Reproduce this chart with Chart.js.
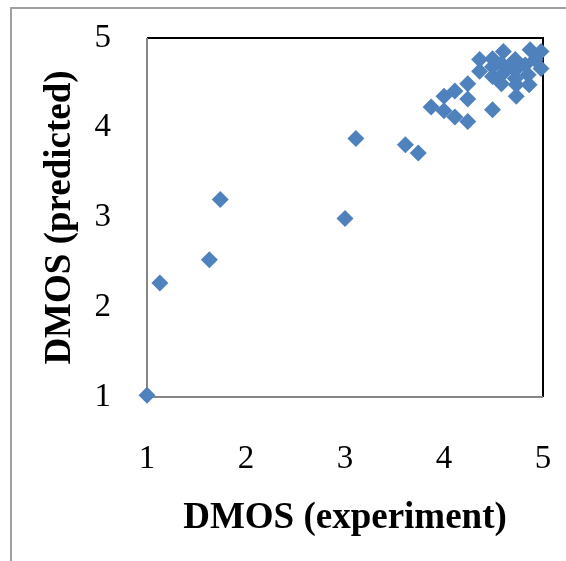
<!DOCTYPE html>
<html>
<head>
<meta charset="utf-8">
<script src="https://cdn.jsdelivr.net/npm/chart.js@4"></script>
<style>
  html, body { margin: 0; padding: 0; background: #fff; }
  #wrap { position: relative; width: 566px; height: 561px; }
  #frame { position: absolute; left: 10px; top: 7px; right: 0; bottom: 0;
           border-left: 2px solid #a0a0a0; border-top: 2px solid #a0a0a0; }
  canvas { position: absolute; left: 0; top: 0; }
</style>
</head>
<body>
<div id="wrap">
  <div id="frame"></div>
  <canvas id="dmosChart" width="566" height="561"></canvas>
</div>
<script>
// valeurs
const experiment = [1.00, 1.13, 1.63, 1.74, 3.00, 3.11, 3.61, 3.74, 3.87, 4.00, 4.00, 4.11, 4.11,
  4.24, 4.24, 4.24, 4.49, 4.36, 4.36, 4.49, 4.49, 4.60, 4.58, 4.49, 4.60, 4.58, 4.72, 4.72,
  4.72, 4.82, 4.87, 4.98, 4.98, 4.86, 4.73, 4.92, 4.65, 4.85, 4.73];
const predicted = [1.02, 2.27, 2.53, 3.20, 2.99, 3.88, 3.81, 3.72, 4.23, 4.35, 4.19, 4.41, 4.12,
  4.49, 4.32, 4.07, 4.20, 4.76, 4.63, 4.77, 4.68, 4.85, 4.72, 4.57, 4.61, 4.49, 4.76, 4.64,
  4.55, 4.70, 4.87, 4.85, 4.66, 4.48, 4.35, 4.76, 4.68, 4.59, 4.48];
const tickValues = [1, 2, 3, 4, 5];
const xTitle = 'DMOS (experiment)';
const yTitle = 'DMOS (predicted)';

const points = experiment.map((x, i) => ({ x: x, y: predicted[i] }));

// cadre autour de la zone de tracé
const plotBox = {
    id: 'plotBox',
    beforeDatasetsDraw(chart) {
        const { ctx, chartArea: a } = chart;
        ctx.save();
        ctx.strokeStyle = '#000';
        ctx.lineWidth = 2;
        ctx.beginPath();
        ctx.moveTo(a.left, a.top);
        ctx.lineTo(a.right, a.top);
        ctx.lineTo(a.right, a.bottom);
        ctx.stroke();
        ctx.strokeStyle = '#868686';
        ctx.beginPath();
        ctx.moveTo(a.left, a.top);
        ctx.lineTo(a.left, a.bottom);
        ctx.lineTo(a.right, a.bottom);
        ctx.stroke();
        ctx.restore();
    }
};

const tickFont = { family: '"Liberation Serif", "Times New Roman", serif', size: 33 };
const titleFont = { family: '"Liberation Serif", "Times New Roman", serif', size: 37, weight: 'bold' };

new Chart(document.getElementById('dmosChart'), {
    type: 'scatter',
    data: {
        datasets: [{
            data: points,
            pointStyle: 'rectRot',
            pointRadius: 8.5,
            pointHoverRadius: 8.5,
            backgroundColor: '#4F81BD',
            borderColor: '#4F81BD',
            borderWidth: 0,
            clip: false
        }]
    },
    options: {
        responsive: false,
        animation: false,
        layout: { padding: { left: 0, top: 38, right: 23, bottom: 0 } },
        plugins: { legend: { display: false }, tooltip: { enabled: false } },
        scales: {
            x: {
                min: 1, max: 5,
                afterBuildTicks: s => { s.ticks = tickValues.map(v => ({ value: v })); },
                afterFit: s => { s.height = 164; s.paddingLeft = 0; s.paddingRight = 0; },
                grid: { display: false, drawTicks: false },
                border: { display: false },
                ticks: { color: '#000', font: tickFont, padding: 43, maxRotation: 0 },
                title: { display: true, text: xTitle, color: '#000', font: titleFont, padding: { top: 0, bottom: 20 } }
            },
            y: {
                min: 1, max: 5,
                afterBuildTicks: s => { s.ticks = tickValues.map(v => ({ value: v })); },
                afterFit: s => { s.width = 147; s.paddingTop = 0; s.paddingBottom = 0; },
                grid: { display: false, drawTicks: false },
                border: { display: false },
                ticks: { color: '#000', font: tickFont, padding: 36 },
                title: { display: true, text: yTitle, color: '#000', font: titleFont, padding: { top: 38, bottom: 0 } }
            }
        }
    },
    plugins: [plotBox]
});
</script>
</body>
</html>
